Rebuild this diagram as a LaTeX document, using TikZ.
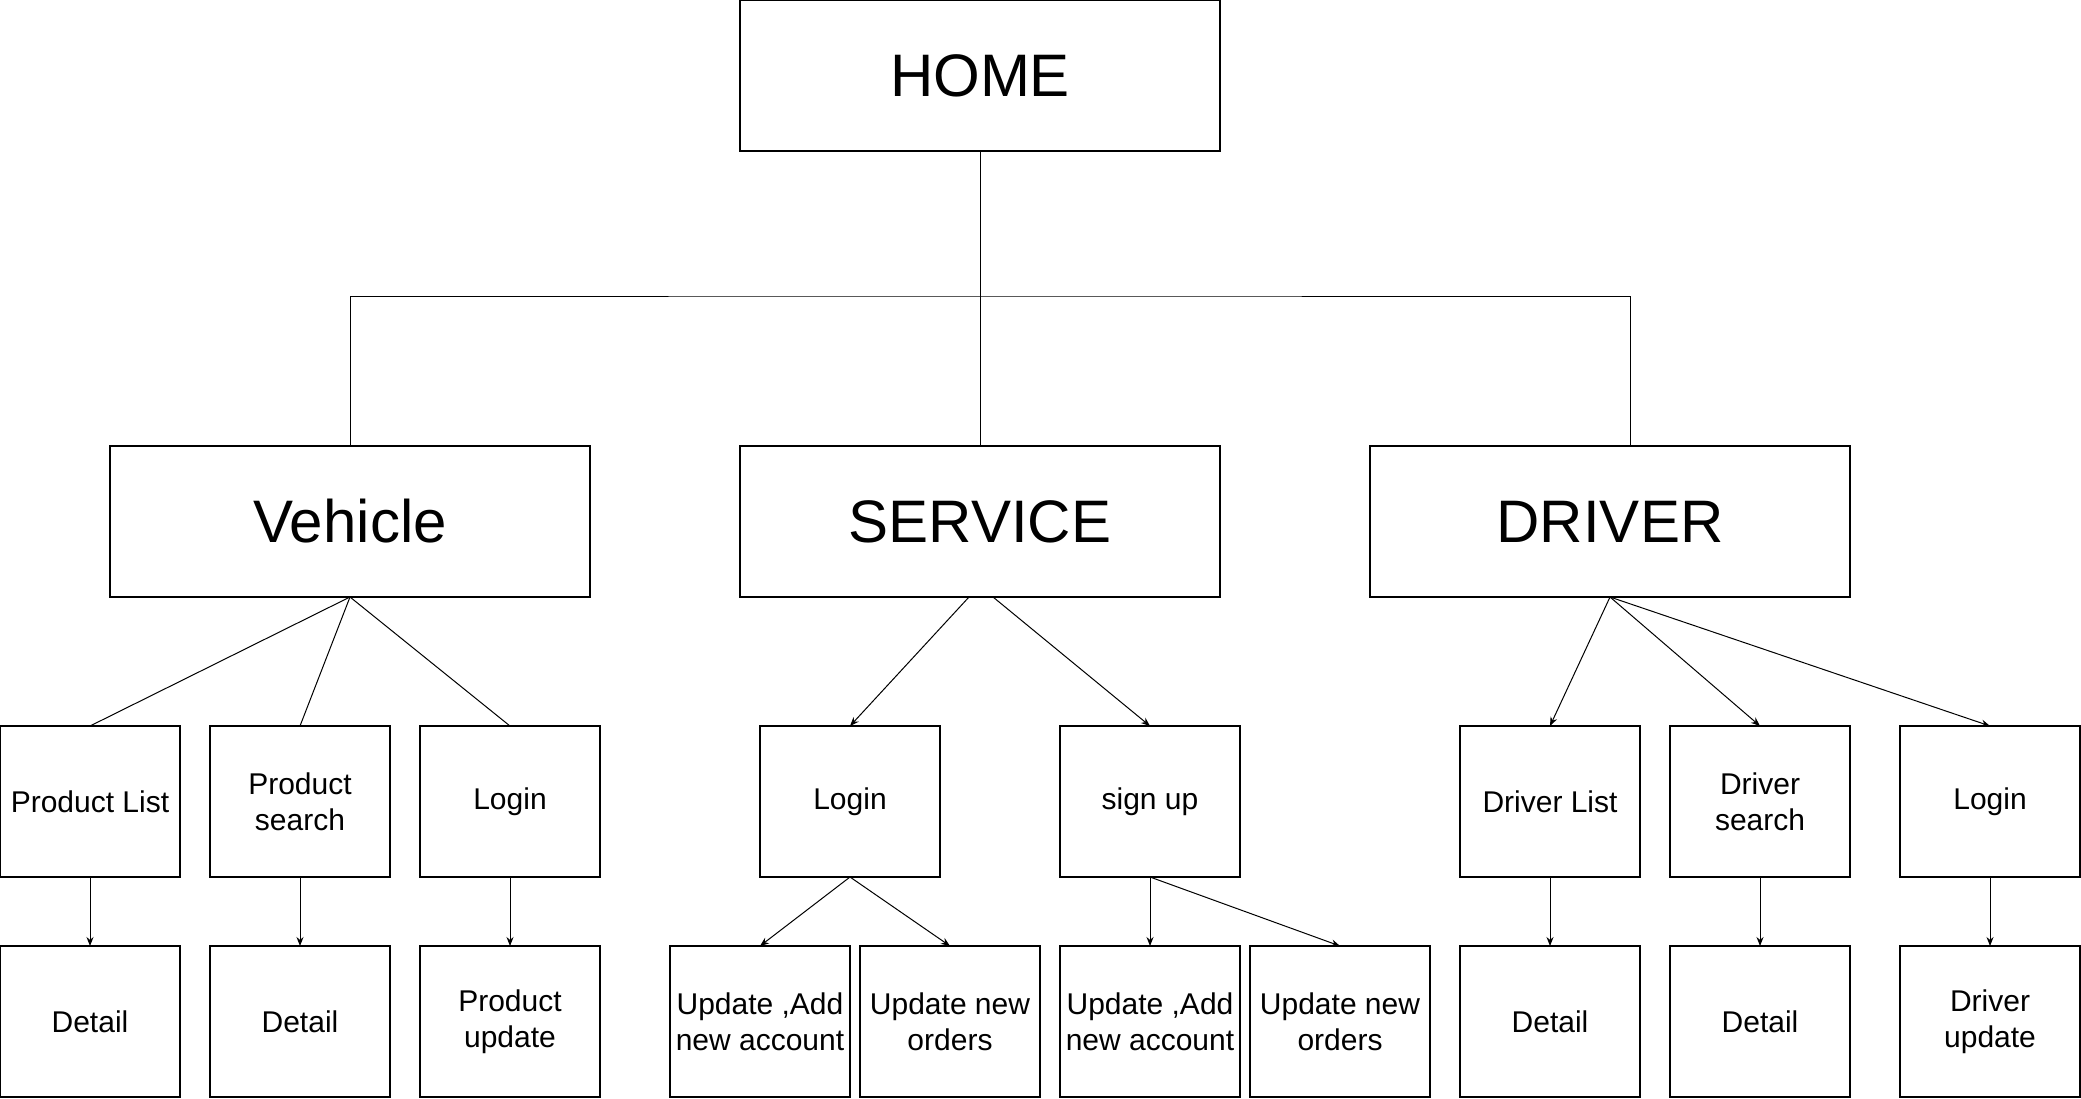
\documentclass[tikz,border=0pt]{standalone}
\usepackage{fontspec}
\setmainfont{Liberation Sans}
\usetikzlibrary{positioning,arrows.meta}

\begin{document}
\begin{tikzpicture}[x=0.5pt,y=-0.5pt,
bigbox/.style={rectangle,draw=black,line width=0.6pt,outer sep=0pt,inner sep=0pt,
minimum width=240pt,minimum height=75.5pt,font=\fontsize{30}{36}\selectfont},
smallbox/.style={rectangle,draw=black,line width=0.6pt,outer sep=0pt,inner sep=0pt,
minimum width=90pt,minimum height=75.5pt,align=center,font=\fontsize{15}{18}\selectfont},
link/.style={line width=0.5pt},
arr/.style={line width=0.5pt,-{Stealth[length=4.5pt,width=3.5pt]}}]
    \useasboundingbox (0,0) rectangle (2081,1098);
    % top levels
    \node[bigbox] (Home) at (980,75.5) {HOME};
    \node[bigbox] (Service) [below=147.5pt of Home] {SERVICE};
    \node[bigbox] (Vehicle) [left=75pt of Service] {Vehicle};
    \node[bigbox] (Driver) [right=75pt of Service] {DRIVER};
    % second row
    \node[smallbox] (Product list) at (90,801.5) {Product List};
    \node[smallbox] (Product search) [right=15pt of Product list] {Product\\search};
    \node[smallbox] (Vehicle login) [right=15pt of Product search] {Login};
    \node[smallbox] (Service login) at (850,801.5) {Login};
    \node[smallbox] (Sign up) [right=60pt of Service login] {sign up};
    \node[smallbox] (Driver list) at (1550,801.5) {Driver List};
    \node[smallbox] (Driver search) [right=15pt of Driver list] {Driver\\search};
    \node[smallbox] (Driver login) [right=25pt of Driver search] {Login};
    % third row
    \node[smallbox] (Detail a) [below=34.5pt of Product list] {Detail};
    \node[smallbox] (Detail b) [below=34.5pt of Product search] {Detail};
    \node[smallbox] (Product update) [below=34.5pt of Vehicle login] {Product\\update};
    \node[smallbox] (Account a) at (760,1021.5) {Update ,Add\\new account};
    \node[smallbox] (Orders a) [right=5pt of Account a] {Update new\\orders};
    \node[smallbox] (Account b) [below=34.5pt of Sign up] {Update ,Add\\new account};
    \node[smallbox] (Orders b) [right=5pt of Account b] {Update new\\orders};
    \node[smallbox] (Detail c) [below=34.5pt of Driver list] {Detail};
    \node[smallbox] (Detail d) [below=34.5pt of Driver search] {Detail};
    \node[smallbox] (Driver update) [below=34.5pt of Driver login] {Driver\\update};
    % bus from home
    \coordinate (bus) at (980,296);
    \draw [link] (Home.south) -- (bus);
    \draw [link] (Vehicle.north) |- (bus) -| ([xshift=10pt]Driver.north);
    \draw [link] (bus) -- (Service.north);
    % vehicle branch
    \foreach \child in {Product list,Product search,Vehicle login}
        \draw [link] (Vehicle.south) -- (\child.north);
    % service branch
    \draw [arr] ([xshift=-5.5pt]Service.south) -- (Service login.north);
    \draw [arr] ([xshift=6.5pt]Service.south) -- (Sign up.north);
    \draw [arr] (Service login.south) -- (Account a.north);
    \draw [arr] (Service login.south) -- (Orders a.north);
    \draw [arr] (Sign up.south) -- (Account b.north);
    \draw [arr] (Sign up.south) -- (Orders b.north);
    % driver branch
    \foreach \child in {Driver list,Driver search,Driver login}
        \draw [arr] (Driver.south) -- (\child.north);
    % down to details
    \foreach \a/\b in {Product list/Detail a,Product search/Detail b,Vehicle login/Product update,
        Driver list/Detail c,Driver search/Detail d,Driver login/Driver update}
        \draw [arr] (\a) -- (\b);
\end{tikzpicture}
\end{document}
